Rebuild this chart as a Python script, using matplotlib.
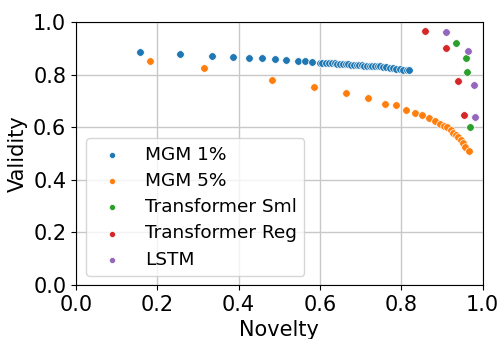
import matplotlib
matplotlib.use("Agg")
import matplotlib.pyplot as plt

# MGM 1%
mgm1_novelty = [0.157, 0.255, 0.334, 0.385, 0.425, 0.457, 0.489, 0.516, 0.545, 0.564,
                0.581, 0.600, 0.606, 0.614, 0.622, 0.630, 0.636, 0.642, 0.649, 0.657,
                0.663, 0.670, 0.676, 0.683, 0.690, 0.696, 0.703, 0.709, 0.716, 0.722,
                0.729, 0.735, 0.742, 0.748, 0.755, 0.763, 0.771, 0.780, 0.788, 0.796,
                0.804, 0.813, 0.819]
mgm1_validity = [0.885, 0.878, 0.872, 0.868, 0.864, 0.862, 0.861, 0.857, 0.853, 0.851,
                 0.848, 0.845, 0.845, 0.845, 0.844, 0.844, 0.843, 0.842, 0.841, 0.840,
                 0.840, 0.839, 0.838, 0.837, 0.836, 0.836, 0.835, 0.834, 0.834, 0.833,
                 0.833, 0.832, 0.832, 0.831, 0.830, 0.829, 0.827, 0.826, 0.823, 0.821,
                 0.819, 0.817, 0.816]

# MGM 5%
mgm5_novelty = [0.181, 0.314, 0.481, 0.585, 0.665, 0.717, 0.759, 0.786, 0.812, 0.833,
                0.852, 0.868, 0.882, 0.894, 0.904, 0.912, 0.921, 0.927, 0.934, 0.940,
                0.946, 0.952, 0.956, 0.966]
mgm5_validity = [0.853, 0.826, 0.781, 0.752, 0.732, 0.710, 0.688, 0.683, 0.665, 0.655,
                 0.645, 0.636, 0.625, 0.612, 0.606, 0.600, 0.589, 0.580, 0.572, 0.562,
                 0.551, 0.539, 0.526, 0.511]

tsml_novelty = [0.934, 0.960, 0.962, 0.969]
tsml_validity = [0.919, 0.864, 0.809, 0.601]

treg_novelty = [0.857, 0.910, 0.940, 0.954]
treg_validity = [0.966, 0.901, 0.776, 0.645]

lstm_novelty = [0.910, 0.964, 0.979, 0.982]
lstm_validity = [0.963, 0.891, 0.759, 0.640]

series = [
    ("MGM 1%", mgm1_novelty, mgm1_validity, "#1f77b4"),
    ("MGM 5%", mgm5_novelty, mgm5_validity, "#ff7f0e"),
    ("Transformer Sml", tsml_novelty, tsml_validity, "#2ca02c"),
    ("Transformer Reg", treg_novelty, treg_validity, "#d62728"),
    ("LSTM", lstm_novelty, lstm_validity, "#9467bd"),
]

fig = plt.figure(figsize=(5.01, 3.39), dpi=100)
ax = fig.add_axes([0.1517, 0.159, 0.8117, 0.776])

for name, xs, ys, color in series:
    ax.scatter(xs, ys, s=30, color=color, edgecolor="white", linewidth=0.5,
               label=name, zorder=3)

ax.set_xlim(0, 1)
ax.set_ylim(0, 1)
ax.set_xticks([0, 0.2, 0.4, 0.6, 0.8, 1.0])
ax.set_yticks([0, 0.2, 0.4, 0.6, 0.8, 1.0])
ax.grid(True, color="#c8c8c8", linewidth=1)
ax.set_axisbelow(True)
ax.tick_params(labelsize=15)
ax.set_xlabel("Novelty", fontsize=15)
ax.set_ylabel("Validity", fontsize=15)

leg = ax.legend(loc="lower left", bbox_to_anchor=(0.0246, 0.034), borderaxespad=0,
                fontsize=13.3, markerscale=0.8, handlelength=2.0,
                handletextpad=0.8, labelspacing=0.45)

fig.savefig("out.png", dpi=100)
